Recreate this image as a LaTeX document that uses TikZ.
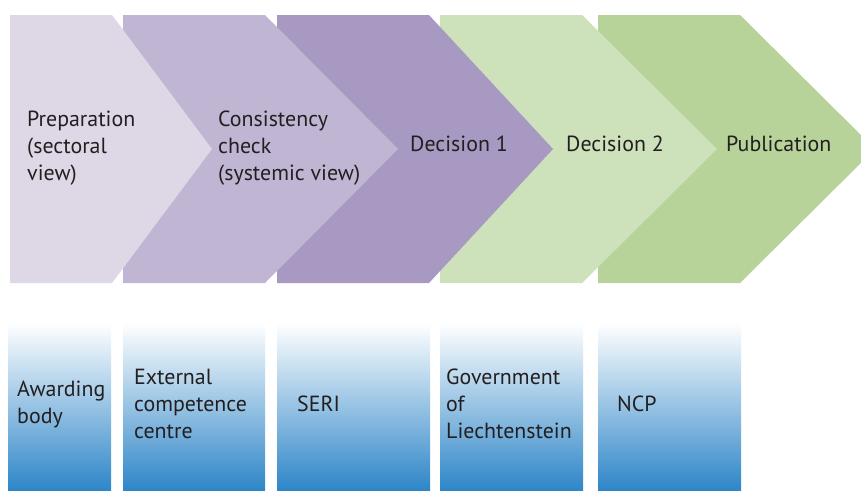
\documentclass[tikz,border=0pt]{standalone}
\usepackage{fontspec}
\setmainfont{PT Sans}
\begin{document}
\begin{tikzpicture}[x=1pt,y=-1pt,
  lbl/.style={anchor=west,align=left,inner sep=0pt,text=txt,font=\fontsize{21.9}{27}\selectfont},
  blue box/.style={top color=white,bottom color=boxblue,draw=none}]
\definecolor{txt}{HTML}{231F20}
\definecolor{c1}{HTML}{DDD7E6}
\definecolor{c2}{HTML}{C0B6D4}
\definecolor{c3}{HTML}{A899C2}
\definecolor{c4}{HTML}{CDE1BB}
\definecolor{c5}{HTML}{B7D39A}
\definecolor{boxblue}{HTML}{2E86C8}
\clip (0,0) rectangle (861,490);
\fill[white] (0,0) rectangle (861,490);
% chevrons (drawn back to front)
\fill[c5] (598,15) -- (740,15) -- (875,149) -- (740,283) -- (598,283) -- cycle;
\fill[c4] (440,15) -- (582,15) -- (717,149) -- (582,283) -- (440,283) -- cycle;
\fill[c3] (277,15) -- (429,15) -- (553,149) -- (429,283) -- (277,283) -- cycle;
\fill[c2] (123,15) -- (265,15) -- (398,149) -- (265,283) -- (123,283) -- cycle;
\fill[c1] (10,15) -- (112,15) -- (212,149) -- (112,283) -- (10,283) -- cycle;
% step labels
\node[lbl] (prep) at (27,148) {Preparation\\(sectoral\\view)};
\node[lbl] (cons) at (218,148) {Consistency\\check\\(systemic view)};
\node[lbl] (dec1) at (410,144) {Decision 1};
\node[lbl] (dec2) at (566,144) {Decision 2};
\node[lbl] (pub) at (726,144) {Publication};
% actor boxes
\fill[blue box] (8,323) rectangle (111,490);
\fill[blue box] (123,323) rectangle (265,490);
\fill[blue box] (277,323) rectangle (430,490);
\fill[blue box] (440,323) rectangle (583,490);
\fill[blue box] (598,323) rectangle (741,490);
\node[lbl] (aw) at (17,404) {Awarding\\body};
\node[lbl] (ext) at (134,404) {External\\competence\\centre};
\node[lbl] (seri) at (297,404) {SERI};
\node[lbl] (gov) at (446,404) {Government\\of\\Liechtenstein};
\node[lbl] (ncp) at (617,404) {NCP};
\end{tikzpicture}
\end{document}
